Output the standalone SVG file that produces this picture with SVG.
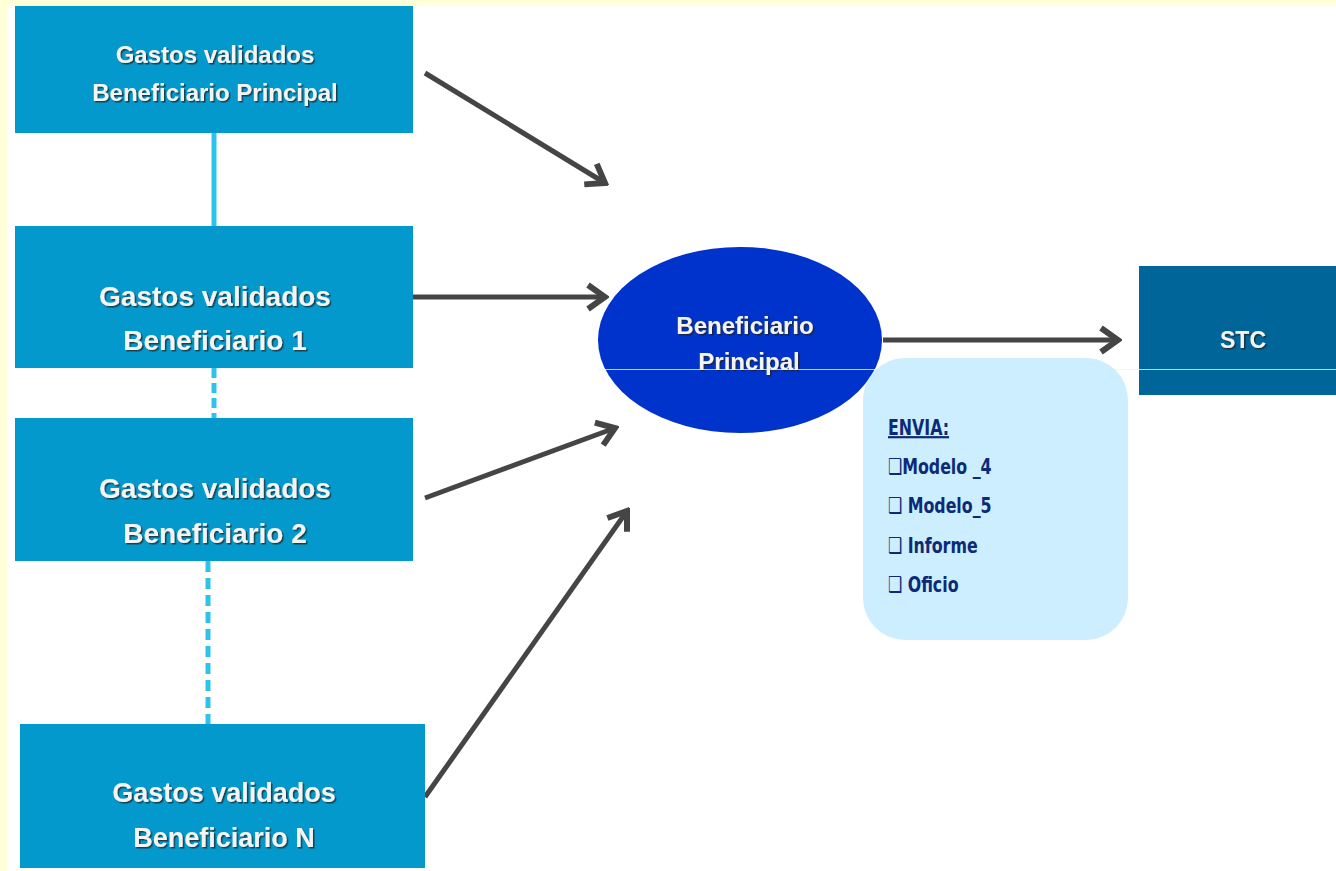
<svg xmlns="http://www.w3.org/2000/svg" width="1336" height="871" viewBox="0 0 1336 871">
<style>
.box{fill:#0399CC;}
.lbl{font-family:"Liberation Sans",Arial,sans-serif;font-weight:bold;fill:#F4F4F4;text-anchor:middle;filter:url(#sh);}
.conn{stroke:#454545;stroke-width:5;fill:none;marker-end:url(#arr);}
.link{stroke:#2EC3EA;stroke-width:5;fill:none;}
.env{font-family:"DejaVu Sans Condensed","DejaVu Sans",sans-serif;font-weight:bold;font-size:22px;fill:#0C2A76;}
</style>
<defs>
<filter id="sh" x="-10%" y="-30%" width="120%" height="160%">
<feDropShadow dx="1.5" dy="1.5" stdDeviation="0.7" flood-color="#222" flood-opacity="0.75"/>
</filter>
<marker id="arr" markerUnits="userSpaceOnUse" viewBox="0 0 26 30" markerWidth="26" markerHeight="30" refX="22" refY="15" orient="auto">
<path d="M5,3 L22,15 L5,27" fill="none" stroke="#454545" stroke-width="6" stroke-linejoin="miter"/>
</marker>
</defs>
<rect x="0" y="0" width="1336" height="871" fill="#FFFFD8"/>
<rect x="7" y="6" width="1329" height="865" fill="#FFFFFF"/>

<g id="connectors">
<line class="link" x1="214" y1="133" x2="214" y2="226"/>
<line class="link" x1="214" y1="368" x2="214" y2="418" stroke-dasharray="10,5"/>
<line class="link" x1="208" y1="561" x2="208" y2="724" stroke-dasharray="11,6"/>
<line class="conn" x1="425" y1="73" x2="605" y2="183"/>
<line class="conn" x1="413" y1="297" x2="605" y2="297"/>
<line class="conn" x1="425" y1="498" x2="615" y2="428"/>
<line class="conn" x1="425" y1="797" x2="627" y2="511"/>
<line class="conn" x1="883" y1="340" x2="1118" y2="340"/>
</g>

<g id="box-principal">
<rect class="box" x="15" y="6" width="398" height="127"/>
<text class="lbl" x="215" y="63" font-size="24">Gastos validados</text>
<text class="lbl" x="215" y="101" font-size="24">Beneficiario Principal</text>
</g>
<g id="box-1">
<rect class="box" x="15" y="226" width="398" height="142"/>
<text class="lbl" x="215" y="306" font-size="28">Gastos validados</text>
<text class="lbl" x="215" y="350" font-size="28">Beneficiario 1</text>
</g>
<g id="box-2">
<rect class="box" x="15" y="418" width="398" height="143"/>
<text class="lbl" x="215" y="498" font-size="28">Gastos validados</text>
<text class="lbl" x="215" y="543" font-size="28">Beneficiario 2</text>
</g>
<g id="box-n">
<rect class="box" x="20" y="724" width="405" height="144"/>
<text class="lbl" x="224" y="802" font-size="27">Gastos validados</text>
<text class="lbl" x="224" y="847" font-size="27">Beneficiario N</text>
</g>

<g id="beneficiario-principal">
<ellipse cx="740" cy="340" rx="142" ry="93" fill="#0033CC"/>
<text class="lbl" x="745" y="334" font-size="24">Beneficiario</text>
<text class="lbl" x="749" y="370" font-size="24">Principal</text>
</g>

<g id="stc">
<rect x="1139" y="266" width="197" height="129" fill="#006699"/>
<text class="lbl" x="1243" y="348" font-size="23">STC</text>
</g>

<g id="artifact-line">
<line x1="598" y1="369.5" x2="1336" y2="369.5" stroke="#F4F4E0" stroke-width="1" opacity="0.8"/>
</g>

<g id="envia">
<rect x="863" y="358" width="265" height="282" rx="42" ry="42" fill="#CCEEFF"/>
<g transform="translate(888,0) scale(0.8,1)">
<text class="env" x="0" y="435" text-decoration="underline">ENVIA:</text>
<text class="env" x="0" y="474">❑Modelo _4</text>
<text class="env" x="0" y="513">❑ Modelo_5</text>
<text class="env" x="0" y="553">❑ Informe</text>
<text class="env" x="0" y="592">❑ Oficio</text>
</g>
</g>
</svg>
